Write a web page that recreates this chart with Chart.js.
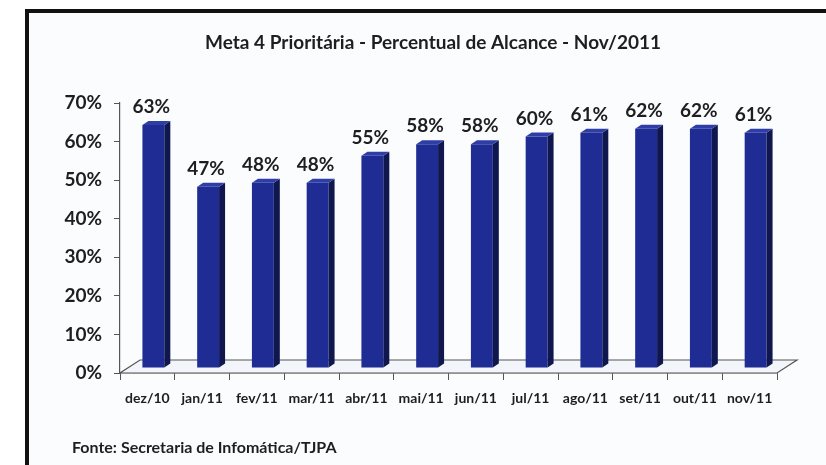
<!DOCTYPE html>
<html>
<head>
<meta charset="utf-8">
<script src="https://cdn.jsdelivr.net/npm/chart.js@4/dist/chart.umd.min.js"></script>
<style>
  html, body { margin: 0; padding: 0; background: #fff; overflow: hidden; }
  #wrap { position: relative; width: 826px; height: 465px; }
  #frame { position: absolute; left: 25px; top: 9px; width: 900px; height: 600px;
           border: 4px solid #111; background: #fafcfd; }
  #chart { position: absolute; left: 0; top: 0; }
</style>
</head>
<body>
<div id="wrap">
  <div id="frame"></div>
  <canvas id="chart" width="826" height="465"></canvas>
</div>
<script>
const titleText = 'Meta 4 Prioritária - Percentual de Alcance - Nov/2011';
const sourceText = 'Fonte: Secretaria de Infomática/TJPA';
const months = ['dez/10', 'jan/11', 'fev/11', 'mar/11', 'abr/11', 'mai/11',
  'jun/11', 'jul/11', 'ago/11', 'set/11', 'out/11', 'nov/11'];
const percents = [63, 47, 48, 48, 55, 58, 58, 60, 61, 62, 62, 61];

const FONT = 'Lato, "Liberation Sans", sans-serif';
const INK = '#1e1e1e';

// fake 3d look: bar offset, side depth, floor depth
const DX = 6, DY = -5, SIDE = 6, TOPH = 4;
const FDX = 20, FDY = -13;

const bars3d = {
  id: 'bars3d',
  beforeDatasetsDraw(chart) {
    const { ctx, chartArea: a } = chart;
    ctx.save();
    ctx.beginPath();
    ctx.moveTo(a.left, a.bottom);
    ctx.lineTo(a.right, a.bottom);
    ctx.lineTo(a.right + FDX, a.bottom + FDY);
    ctx.lineTo(a.left + FDX, a.bottom + FDY);
    ctx.closePath();
    ctx.fillStyle = '#f2f5f9';
    ctx.fill();
    ctx.strokeStyle = '#555';
    ctx.lineWidth = 1.2;
    ctx.stroke();
    ctx.restore();
    ctx.save();
    ctx.translate(DX, DY);
  },
  afterDatasetsDraw(chart) {
    const { ctx } = chart;
    ctx.restore();
    const meta = chart.getDatasetMeta(0);
    meta.data.forEach((bar, i) => {
      const p = bar.getProps(['x', 'y', 'base', 'width'], true);
      const l = p.x - p.width / 2 + DX;
      const r = p.x + p.width / 2 + DX;
      const t = p.y + DY;
      const b = p.base + DY;
      ctx.save();
      // side
      ctx.beginPath();
      ctx.moveTo(r, t);
      ctx.lineTo(r + SIDE, t - TOPH);
      ctx.lineTo(r + SIDE, b - TOPH);
      ctx.lineTo(r, b);
      ctx.closePath();
      ctx.fillStyle = '#10174f';
      ctx.fill();
      // top
      ctx.beginPath();
      ctx.moveTo(l, t);
      ctx.lineTo(l + SIDE, t - TOPH);
      ctx.lineTo(r + SIDE, t - TOPH);
      ctx.lineTo(r, t);
      ctx.closePath();
      ctx.fillStyle = '#2f3da6';
      ctx.fill();
      // value label
      ctx.fillStyle = INK;
      ctx.font = 'bold 19px ' + FONT;
      ctx.textAlign = 'center';
      ctx.textBaseline = 'middle';
      ctx.fillText(percents[i] + '%', p.x + 4, t - 18);
      ctx.restore();
    });
  },
  afterDraw(chart) {
    const { ctx } = chart;
    ctx.save();
    ctx.fillStyle = INK;
    ctx.textBaseline = 'middle';
    ctx.font = 'bold 19px ' + FONT;
    ctx.textAlign = 'center';
    ctx.fillText(titleText, 433, 43);
    ctx.font = 'bold 16px ' + FONT;
    ctx.textAlign = 'left';
    ctx.fillText(sourceText, 72, 448);
    ctx.restore();
  }
};

new Chart(document.getElementById('chart'), {
  type: 'bar',
  data: {
    labels: months,
    datasets: [{
      label: 'Percentual',
      data: percents,
      backgroundColor: '#1f2c94',
      borderWidth: 0,
      categoryPercentage: 1,
      barPercentage: 0.4,
      clip: false
    }]
  },
  options: {
    responsive: false,
    animation: false,
    layout: { padding: { left: 25, right: 49, top: 103, bottom: 52 } },
    plugins: {
      legend: { display: false },
      title: { display: false },
      tooltip: { enabled: false }
    },
    scales: {
      x: {
        afterFit: (s) => { s.height = 40; },
        grid: { display: true, drawOnChartArea: false, tickLength: 7, color: '#555', offset: true },
        border: { display: true, color: '#555', width: 1.2 },
        ticks: { color: INK, font: { family: FONT, size: 14, weight: 'bold' }, padding: 10, maxRotation: 0 }
      },
      y: {
        min: 0,
        max: 70,
        afterFit: (s) => { s.width = 95; },
        grid: { display: true, drawOnChartArea: false, tickLength: 6, color: '#555' },
        border: { display: true, color: '#555', width: 1.2 },
        ticks: {
          stepSize: 10,
          color: INK,
          padding: 12,
          font: { family: FONT, size: 19, weight: 'bold' },
          callback: (v) => v + '%'
        }
      }
    }
  },
  plugins: [bars3d]
});
</script>
</body>
</html>
